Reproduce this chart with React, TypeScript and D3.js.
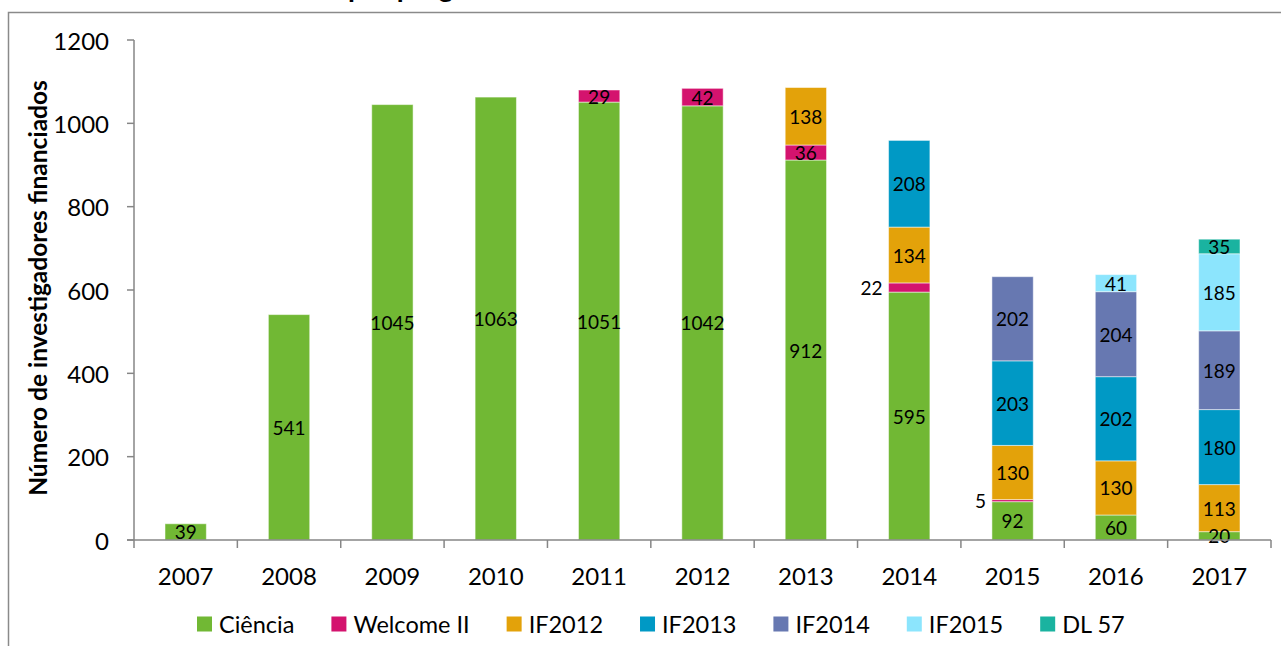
import React, { useEffect, useRef } from "react";
import * as d3 from "d3";

const years = ["2007", "2008", "2009", "2010", "2011", "2012", "2013", "2014", "2015", "2016", "2017"];
const seriesNames = ["Ciência", "Welcome II", "IF2012", "IF2013", "IF2014", "IF2015", "DL 57"];
const seriesColors = ["#71B834", "#D4136E", "#E3A20A", "#0099C5", "#6778B1", "#8CE5FD", "#1AB3A0"];

const ciencia = [39, 541, 1045, 1063, 1051, 1042, 912, 595, 92, 60, 20];
const welcomeII = [0, 0, 0, 0, 29, 42, 36, 22, 5, 0, 0];
const if2012 = [0, 0, 0, 0, 0, 0, 138, 134, 130, 130, 113];
const if2013 = [0, 0, 0, 0, 0, 0, 0, 208, 203, 202, 180];
const if2014 = [0, 0, 0, 0, 0, 0, 0, 0, 202, 204, 189];
const if2015 = [0, 0, 0, 0, 0, 0, 0, 0, 0, 41, 185];
const dl57 = [0, 0, 0, 0, 0, 0, 0, 0, 0, 0, 35];

const yTicks = [0, 200, 400, 600, 800, 1000, 1200];
const yTitle = "Número de investigadores financiados";
const titleTail = "por programa";

const FONT = "Lato, 'Open Sans', sans-serif";

export default function App() {
  const ref = useRef<SVGSVGElement | null>(null);

  useEffect(() => {
    const svg = d3.select(ref.current);
    svg.selectAll("*").remove();

    const left = 134, right = 1271, top = 40, bottom = 540;
    const allSeries = [ciencia, welcomeII, if2012, if2013, if2014, if2015, dl57];
    const table = years.map((y, i) => {
      const row: any = { year: y };
      seriesNames.forEach((s, k) => (row[s] = allSeries[k][i]));
      return row;
    });
    const stack = d3.stack<any>().keys(seriesNames)(table);

    const x = d3.scaleBand().domain(years).range([left, right]).paddingInner(0.6).paddingOuter(0.3);
    const xb = d3.scaleBand().domain(years).range([left, right]);
    const y = d3.scaleLinear().domain([0, 1200]).range([bottom, top]);

    // frame
    svg.append("path")
      .attr("d", `M8.5,700 L8.5,12.5 L1300,12.5`)
      .attr("fill", "none").attr("stroke", "#8a8a8a").attr("stroke-width", 1.5);

    // title (cut off at the top edge, as in the reference)
    svg.append("text").attr("x", 348).attr("y", -3)
      .attr("font-family", FONT).attr("font-weight", "bold").attr("font-size", 28)
      .text(titleTail);

    // bars
    const g = svg.append("g");
    stack.forEach((layer, k) => {
      g.selectAll(null).data(layer).enter().append("rect")
        .attr("x", (d: any) => x(d.data.year)!)
        .attr("width", x.bandwidth())
        .attr("y", (d: any) => y(d[1]))
        .attr("height", (d: any) => Math.max(0, y(d[0]) - y(d[1])))
        .attr("fill", seriesColors[k])
        .attr("stroke", "#ffffff").attr("stroke-opacity", 0.5).attr("stroke-width", 1)
        .style("display", (d: any) => (d[1] - d[0] > 0 ? null : "none"));
    });

    // data labels
    stack.forEach((layer, k) => {
      layer.forEach((d: any) => {
        const v = d[1] - d[0];
        if (v <= 0) return;
        const outside = k === 1 && v < 25;
        const cy = y((d[0] + d[1]) / 2);
        svg.append("text")
          .attr("x", outside ? x(d.data.year)! - 6 : x(d.data.year)! + x.bandwidth() / 2)
          .attr("y", cy)
          .attr("text-anchor", outside ? "end" : "middle")
          .attr("dominant-baseline", "central")
          .attr("font-family", FONT).attr("font-size", 19).attr("fill", "#000")
          .text(String(v));
      });
    });

    // y axis
    const axisColor = "#868686";
    svg.append("line").attr("x1", left).attr("x2", left).attr("y1", top).attr("y2", bottom)
      .attr("stroke", axisColor).attr("stroke-width", 1.5);
    yTicks.forEach((t) => {
      svg.append("line").attr("x1", left - 7).attr("x2", left).attr("y1", y(t)).attr("y2", y(t))
        .attr("stroke", axisColor).attr("stroke-width", 1.5);
      svg.append("text").attr("x", 109).attr("y", y(t))
        .attr("text-anchor", "end").attr("dominant-baseline", "central")
        .attr("font-family", FONT).attr("font-size", 24).attr("fill", "#000")
        .text(String(t));
    });

    // x axis
    svg.append("line").attr("x1", left - 7).attr("x2", right).attr("y1", bottom).attr("y2", bottom)
      .attr("stroke", axisColor).attr("stroke-width", 1.5);
    const bounds = years.map((yr) => xb(yr)!).concat([right]);
    bounds.forEach((bx) => {
      svg.append("line").attr("x1", bx).attr("x2", bx).attr("y1", bottom).attr("y2", bottom + 8)
        .attr("stroke", axisColor).attr("stroke-width", 1.5);
    });
    years.forEach((yr) => {
      svg.append("text").attr("x", xb(yr)! + xb.bandwidth() / 2).attr("y", 575)
        .attr("text-anchor", "middle").attr("dominant-baseline", "central")
        .attr("font-family", FONT).attr("font-size", 24).attr("fill", "#000")
        .text(yr);
    });

    // y title
    svg.append("text")
      .attr("transform", `translate(37,${(top + bottom) / 2 - 2}) rotate(-90)`)
      .attr("text-anchor", "middle").attr("dominant-baseline", "central")
      .attr("font-family", FONT).attr("font-weight", "bold").attr("font-size", 24.5).attr("fill", "#000")
      .text(yTitle);

    // legend
    const lg = svg.append("g");
    let cx = 0;
    const gap = 37;
    seriesNames.forEach((name, k) => {
      const item = lg.append("g").attr("transform", `translate(${cx},0)`);
      item.append("rect").attr("x", 0).attr("y", -7.5).attr("width", 15).attr("height", 15)
        .attr("fill", seriesColors[k]);
      const t = item.append("text").attr("x", 22).attr("y", 0)
        .attr("dominant-baseline", "central")
        .attr("font-family", FONT).attr("font-size", 23.5).attr("fill", "#000")
        .text(name);
      const w = (t.node() as SVGTextElement).getComputedTextLength();
      cx += 22 + w + gap;
    });
    const total = cx - gap;
    lg.attr("transform", `translate(${197},624)`);
    void total;
  }, []);

  return (
    <svg
      ref={ref}
      width={1281}
      height={646}
      style={{ position: "absolute", left: 0, top: 0, display: "block", background: "#fff" }}
    />
  );
}
